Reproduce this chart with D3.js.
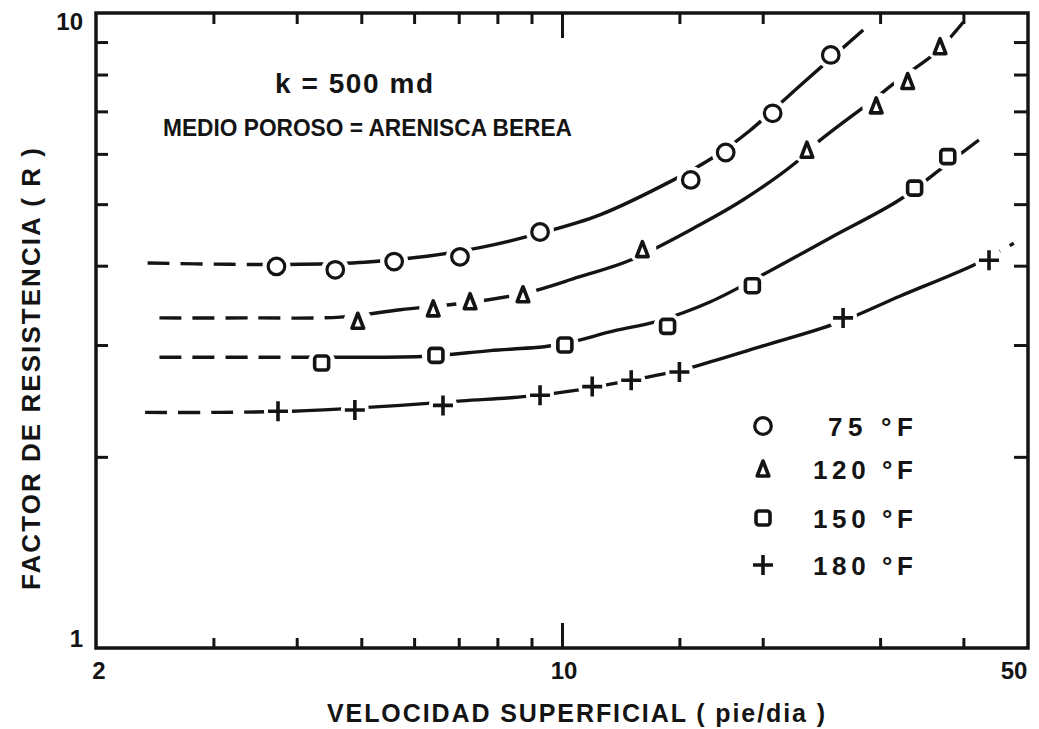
<!DOCTYPE html>
<html><head><meta charset="utf-8">
<script src="https://cdn.jsdelivr.net/npm/d3@7"></script>
<style>
body{margin:0;background:#fff}
text{font-family:"Liberation Sans",Arial,sans-serif;font-weight:bold;fill:#141414}
</style>
</head><body>
<svg id="c" width="1039" height="729"></svg>
<script>
// ---- tick values / labels ----
const xTicks = [3,4,5,6,7,8,9,10,15,20,30,40];
const yTicks = [2,3,4,5,6,7,8,9];
const xLabels = [2,10,50];
const yLabels = [1,10];
const seriesNames = ["75 °F","120 °F","150 °F","180 °F"];
const markerTypes = ["circle","triangle","square","cross"];

// ---- measured points ----
const circX = [3.73, 4.57, 5.60, 7.03, 9.27, 15.6, 17.6, 20.7, 25.3];
const circY = [3.99, 3.94, 4.06, 4.13, 4.52, 5.46, 6.03, 6.95, 8.59];
const triX  = [4.94, 6.41, 7.28, 8.74, 13.2, 23.3, 29.6, 33.0, 36.9];
const triY  = [3.27, 3.42, 3.51, 3.60, 4.24, 6.08, 7.14, 7.80, 8.85];
const sqX   = [4.36, 6.47, 10.1, 14.4, 19.3, 33.8, 37.9];
const sqY   = [2.81, 2.89, 3.00, 3.21, 3.72, 5.30, 5.94];
const crX   = [3.75, 4.89, 6.63, 9.27, 11.1, 12.7, 15.0, 26.4, 43.7];
const crY   = [2.36, 2.37, 2.41, 2.50, 2.58, 2.64, 2.72, 3.31, 4.08];

// ---- fitted curves ----
const fit75X  = [2.39, 3.18, 4.05, 5.06, 6.27, 7.53, 9.27, 11.4, 14.7, 16.8, 19.1, 22.7, 28.3];
const fit75Y  = [4.04, 4.02, 4.02, 4.05, 4.14, 4.27, 4.50, 4.81, 5.46, 5.91, 6.52, 7.67, 9.40];
const fit120X = [2.49, 3.40, 4.65, 5.72, 7.10, 8.80, 10.6, 12.65, 16.1, 18.7, 22.5, 24.1, 29.0, 32.4, 36.3, 40.0];
const fit120Y = [3.31, 3.31, 3.32, 3.41, 3.49, 3.62, 3.84, 4.08, 4.64, 5.08, 5.83, 6.24, 7.24, 7.93, 8.65, 9.68];
const fit150X = [2.49, 3.40, 4.57, 6.27, 7.80, 9.83, 12.0, 13.9, 16.7, 20.0, 25.2, 32.1, 37.3, 42.2];
const fit150Y = [2.87, 2.87, 2.87, 2.88, 2.94, 3.00, 3.16, 3.27, 3.51, 3.87, 4.42, 5.08, 5.72, 6.31];
const fit180X = [2.37, 3.07, 3.94, 4.69, 5.72, 7.08, 8.86, 10.6, 12.4, 14.4, 15.7, 19.8, 25.9, 32.1, 42.1, 47.6];
const fit180Y = [2.35, 2.35, 2.36, 2.38, 2.41, 2.45, 2.49, 2.55, 2.63, 2.71, 2.77, 2.98, 3.25, 3.58, 4.04, 4.34];

// dashed (extrapolated) parts of each curve
const dashEnd   = [3.73, 4.9, 4.3, 3.75];
const tailStart = [null, null, null, 43.7];

const ptsX = [circX, triX, sqX, crX];
const ptsY = [circY, triY, sqY, crY];
const fitX = [fit75X, fit120X, fit150X, fit180X];
const fitY = [fit75Y, fit120Y, fit150Y, fit180Y];

const svg = d3.select("#c");
const x = d3.scaleLog().domain([2,50]).range([96,1028]);
const y = d3.scaleLog().domain([1,10]).range([648,13]);

const INK = "#141414";

// ---- frame & ticks ----
const gA = svg.append("g");
gA.append("g").attr("transform",`translate(0,${y(1)})`)
  .call(d3.axisBottom(x).tickValues(xTicks).tickSize(-10).tickFormat(""))
  .call(g=>g.selectAll(".tick line").filter(d=>d===10).attr("y2",-25));
gA.append("g").attr("transform",`translate(0,${y(10)})`)
  .call(d3.axisTop(x).tickValues(xTicks).tickSize(-11).tickFormat(""))
  .call(g=>g.selectAll(".tick line").filter(d=>d===10).attr("y2",25));
gA.append("g").attr("transform",`translate(${x(2)},0)`)
  .call(d3.axisLeft(y).tickValues(yTicks).tickSize(-12).tickFormat(""));
gA.append("g").attr("transform",`translate(${x(50)},0)`)
  .call(d3.axisRight(y).tickValues(yTicks).tickSize(-14).tickFormat(""));
gA.selectAll(".domain").remove();
gA.selectAll(".tick line").attr("stroke",INK).attr("stroke-width",3);
svg.append("rect").attr("x",x(2)).attr("y",y(10))
  .attr("width",x(50)-x(2)).attr("height",y(1)-y(10))
  .attr("fill","none").attr("stroke",INK).attr("stroke-width",3.5);

// tick labels
const xlOff = {2:3, 10:2, 50:-14};
svg.append("g").selectAll("text").data(xLabels).join("text")
  .attr("x",d=>x(d)+xlOff[d]).attr("y",y(1)+31)
  .attr("text-anchor","middle").attr("font-size",24).text(d=>d);
const ylOff = {1:-1, 10:17};
svg.append("g").selectAll("text").data(yLabels).join("text")
  .attr("x",x(2)-13).attr("y",d=>y(d)+ylOff[d])
  .attr("text-anchor","end").attr("font-size",24).text(d=>d);

// axis titles
svg.append("text").attr("x",576).attr("y",722).attr("text-anchor","middle")
  .attr("font-size",25).attr("textLength",498).attr("lengthAdjust","spacing")
  .text("VELOCIDAD SUPERFICIAL ( pie/dia )");
svg.append("text").attr("transform","translate(40,369) rotate(-90)")
  .attr("text-anchor","middle").attr("font-size",26)
  .attr("textLength",442).attr("lengthAdjust","spacing")
  .text("FACTOR DE RESISTENCIA ( R )");

// annotations
svg.append("text").attr("x",275).attr("y",93).attr("font-size",28)
  .attr("textLength",158).attr("lengthAdjust","spacing").text("k = 500 md");
svg.append("text").attr("x",163).attr("y",136).attr("font-size",24)
  .attr("textLength",409).attr("lengthAdjust","spacingAndGlyphs").text("MEDIO POROSO = ARENISCA BEREA");

// ---- curves ----
const defs = svg.append("defs");
const line = d3.line().x(d=>x(d[0])).y(d=>y(d[1])).curve(d3.curveCatmullRom.alpha(0.5));
const gC = svg.append("g");
fitX.forEach((fx,i)=>{
  const data = fx.map((v,j)=>[v,fitY[i][j]]);
  const dEnd = x(dashEnd[i]);
  const tS = tailStart[i] ? x(tailStart[i]) : 1039;
  defs.append("clipPath").attr("id","cd"+i).call(c=>{
    c.append("rect").attr("x",0).attr("y",0).attr("width",dEnd).attr("height",729);
    if (tailStart[i]) c.append("rect").attr("x",tS).attr("y",0).attr("width",1039-tS).attr("height",729);
  });
  defs.append("clipPath").attr("id","cs"+i)
    .append("rect").attr("x",dEnd).attr("y",0).attr("width",tS-dEnd).attr("height",729);
  gC.append("path").attr("d",line(data)).attr("fill","none").attr("stroke",INK)
    .attr("stroke-width",3.4).attr("stroke-dasharray","22,11").attr("clip-path",`url(#cd${i})`);
  gC.append("path").attr("d",line(data)).attr("fill","none").attr("stroke",INK)
    .attr("stroke-width",3.4).attr("clip-path",`url(#cs${i})`);
});

// ---- markers ----
function drawMarker(g, type, cx, cy){
  g.append("circle").attr("cx",cx).attr("cy",cy).attr("r",14).attr("fill","#fff");
  const s = g.append("g").attr("transform",`translate(${cx},${cy})`)
    .attr("fill","#fff").attr("stroke",INK).attr("stroke-width",3.2);
  if (type==="circle") s.append("circle").attr("r",8.3);
  else if (type==="triangle") s.append("path").attr("d","M0,-8L5.8,7L-5.8,7Z").attr("stroke-linejoin","round").attr("stroke-width",3.6);
  else if (type==="square") s.append("rect").attr("x",-7).attr("y",-7).attr("width",14).attr("height",14).attr("rx",3).attr("stroke-width",3.6);
  else { s.append("path").attr("d","M-10,0H10M0,-10V10").attr("stroke-width",3.6); }
}
const gM = svg.append("g");
ptsX.forEach((px,i)=>{
  px.forEach((v,j)=>drawMarker(gM, markerTypes[i], x(v), y(ptsY[i][j])));
});

// ---- legend ----
const legY = [426, 469, 518, 565];
const legLen = [85, 100, 100, 100];
const gL = svg.append("g");
seriesNames.forEach((n,i)=>{
  const s = gL.append("g");
  drawMarker(s, markerTypes[i], 763, legY[i]);
  gL.append("text").attr("x",913-legLen[i]).attr("y",legY[i]+10)
    .attr("font-size",26).attr("textLength",legLen[i]).attr("lengthAdjust","spacing").text(n);
});
</script>
</body></html>
